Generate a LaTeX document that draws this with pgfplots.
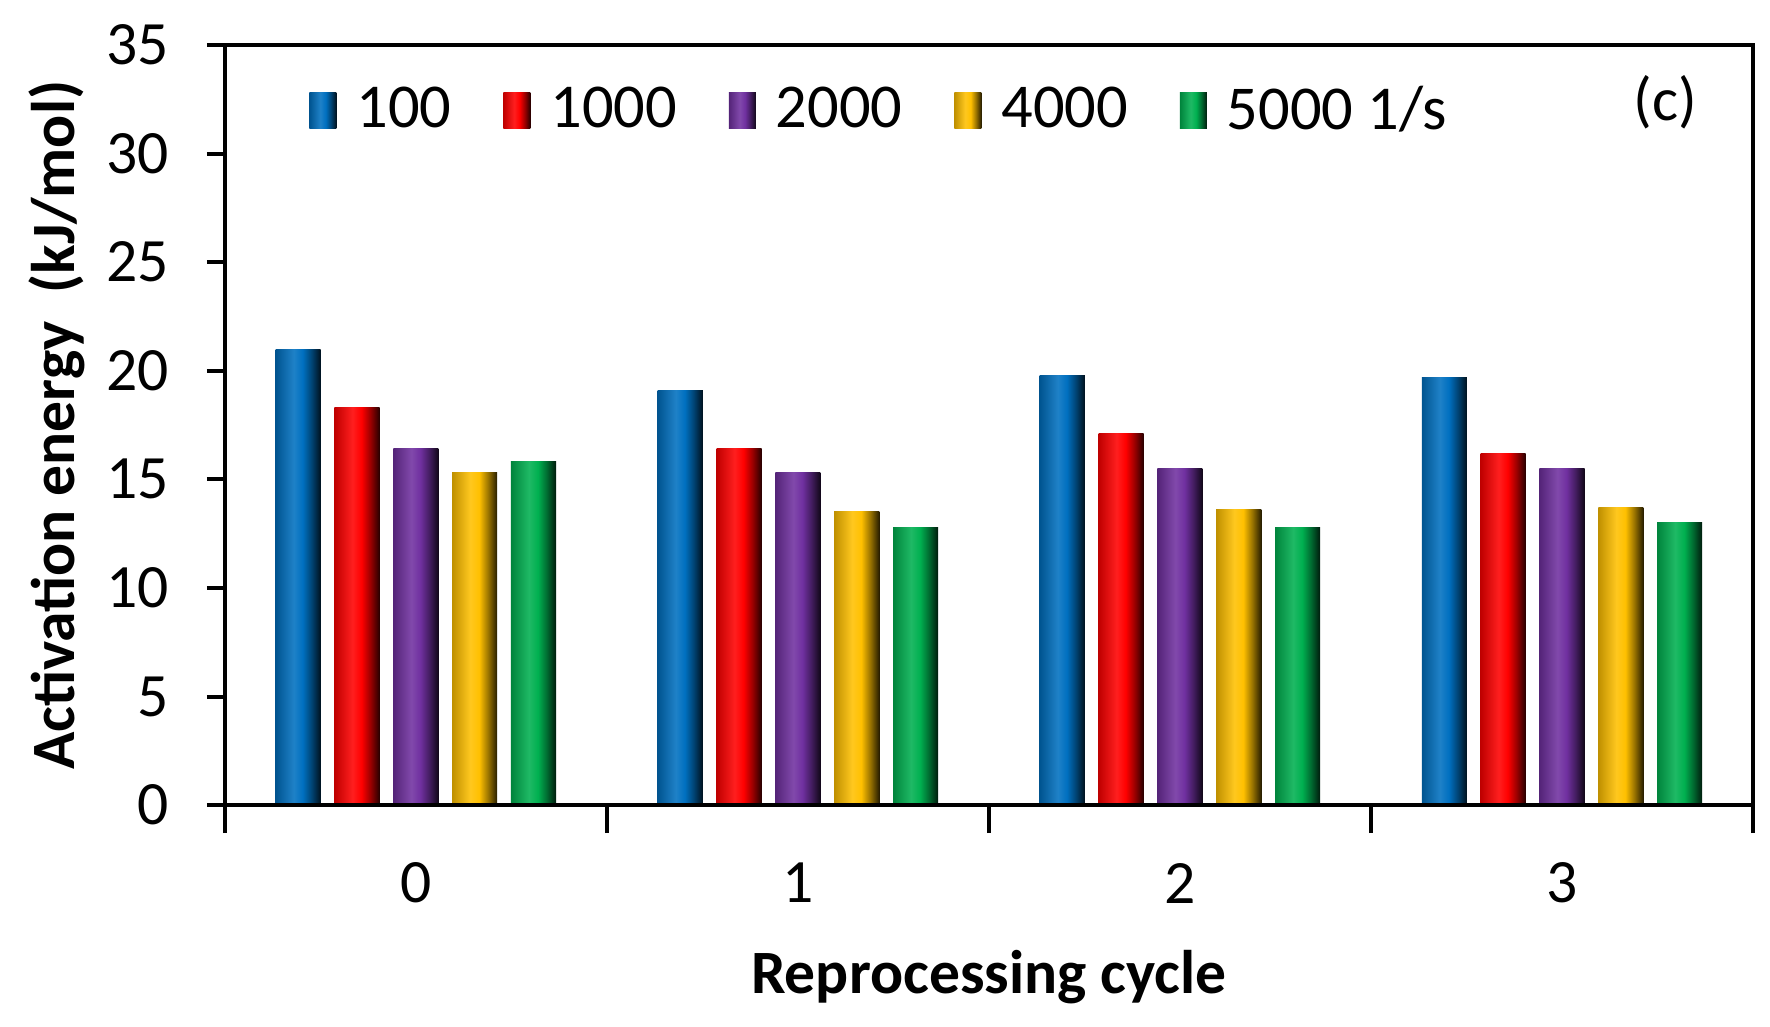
\documentclass[border=0pt]{standalone}
\usepackage{pgfplots}
\usepackage{pgfplotstable}
\pgfplotsset{compat=1.18}
\usepackage{fontspec}
\setmainfont{Carlito}

\definecolor{cBlue}{HTML}{0070C0}
\definecolor{cRed}{HTML}{FF0000}
\definecolor{cPurple}{HTML}{7030A0}
\definecolor{cYellow}{HTML}{FFC000}
\definecolor{cGreen}{HTML}{00B050}

% activation energy (kJ/mol) per strain rate, by reprocessing cycle
\pgfplotstableread{
cycle r100 r1000 r2000 r4000 r5000
0 21.0 18.3 16.4 15.3 15.8
1 19.1 16.4 15.3 13.5 12.8
2 19.8 17.1 15.5 13.6 12.8
3 19.7 16.2 15.5 13.7 13.0
}\datatable

% cylinder-like shading across each bar (path spans 25bp..75bp)
\newcommand{\mkshade}[1]{%
  \pgfdeclarehorizontalshading{sh#1}{100bp}{%
    color(0bp)=(#1!75!black); color(25bp)=(#1!75!black);
    color(45bp)=(#1!88!white); color(55bp)=(#1);
    color(65bp)=(#1!60!black); color(75bp)=(#1!15!black);
    color(100bp)=(#1!15!black)}}
\mkshade{cBlue}\mkshade{cRed}\mkshade{cPurple}\mkshade{cYellow}\mkshade{cGreen}

\pgfplotsset{
  barstyle/.style={draw=none, /tikz/shade, /tikz/shading=sh#1},
}
\newcommand{\fs}{\fontsize{15.4}{18}\selectfont}

\begin{document}
\begin{tikzpicture}
\begin{axis}[
    name=ax,
    width=382pt, height=190pt, scale only axis,
    xmin=-0.5, xmax=3.5, ymin=0, ymax=35,
    ytick={0,5,...,35},
    xtick={0,1,2,3}, xticklabels={0,1,2,3},
    minor xtick={-0.5,0.5,1.5,2.5,3.5},
    tick pos=left, tick align=outside,
    major tick length=4.5pt, minor tick length=7pt,
    every major x tick/.append style={draw=none},
    every tick/.append style={black, line width=1pt},
    axis line style={line width=1pt},
    axis on top,
    ybar, bar width=0.118,
    /pgf/number format/assume math mode=true,
    tick label style={font=\fs},
    xticklabel style={anchor=center, yshift=-15pt},
    yticklabel style={xshift=-6pt},
    ylabel={Activation energy~ (kJ/mol)},
    xlabel={Reprocessing cycle},
    label style={font=\fs\bfseries},
    ylabel style={at={(axis description cs:-0.110,0.5)}, anchor=center},
    xlabel style={at={(axis description cs:0.5,-0.226)}, anchor=center},
    legend style={at={(axis description cs:0.047,0.914)}, anchor=west,
        draw=none, fill=none, legend columns=-1, font=\fontsize{15.6}{18}\selectfont,
        /tikz/every odd column/.append style={column sep=3pt},
        /tikz/every even column/.append style={column sep=11pt}},
    legend image code/.code={\path[#1] (0pt,-4.5pt) rectangle (6.75pt,4.5pt);},
]
\addlegendimage{barstyle=cBlue}\addlegendentry{100}
\addlegendimage{barstyle=cRed}\addlegendentry{1000}
\addlegendimage{barstyle=cPurple}\addlegendentry{2000}
\addlegendimage{barstyle=cYellow}\addlegendentry{4000}
\addlegendimage{barstyle=cGreen}\addlegendentry{5000 1/s}
% one plot per bar so that each bar gets its own shading
\pgfplotsinvokeforeach{0,1,2,3}{
  \addplot[forget plot, barstyle=cBlue, bar shift=-0.308, x filter/.expression={x==#1 ? x : nan}] table[x=cycle, y=r100] {\datatable};
  \addplot[forget plot, barstyle=cRed, bar shift=-0.154, x filter/.expression={x==#1 ? x : nan}] table[x=cycle, y=r1000] {\datatable};
  \addplot[forget plot, barstyle=cPurple, bar shift=0, x filter/.expression={x==#1 ? x : nan}] table[x=cycle, y=r2000] {\datatable};
  \addplot[forget plot, barstyle=cYellow, bar shift=0.154, x filter/.expression={x==#1 ? x : nan}] table[x=cycle, y=r4000] {\datatable};
  \addplot[forget plot, barstyle=cGreen, bar shift=0.308, x filter/.expression={x==#1 ? x : nan}] table[x=cycle, y=r5000] {\datatable};
}
\node[font=\fs] at (axis description cs:0.9426,0.925) {(c)};
\end{axis}
\path (ax.south west) ++(-56.2pt,-55.25pt);
\path (ax.north east) ++(4.25pt,11.25pt);
\end{tikzpicture}
\end{document}
